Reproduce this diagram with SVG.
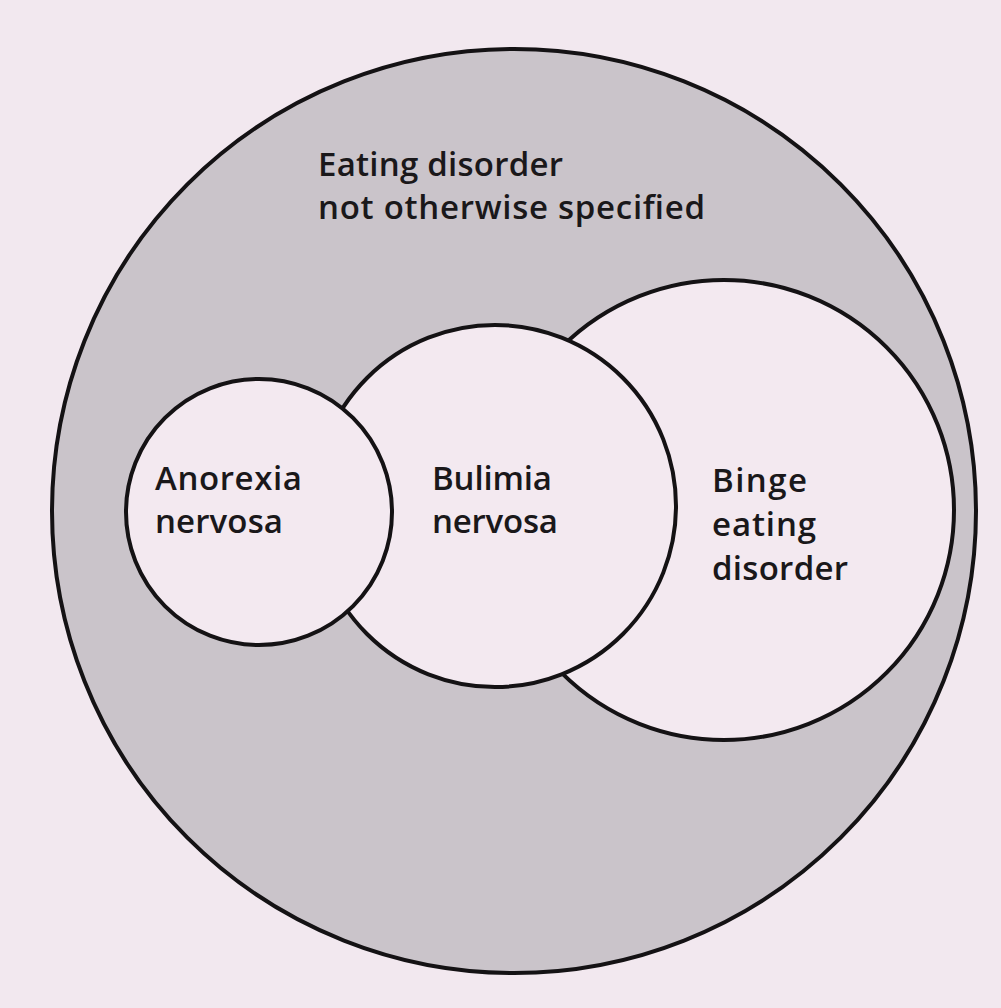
<svg xmlns="http://www.w3.org/2000/svg" width="1001" height="1008" viewBox="0 0 1001 1008">
  <style>
    .ring { stroke: #141214; stroke-width: 4; }
    .inner { fill: #f3e9f0; }
    .lbl { font-family: "Open Sans", "Noto Sans", "Liberation Sans", sans-serif; font-weight: 600; font-size: 33px; fill: #1a181a; }
  </style>
  <rect x="0" y="0" width="1001" height="1008" fill="#f2e8ef"/>
  <g id="ednos">
    <circle class="ring" cx="514" cy="511" r="462" fill="#cac4ca"/>
    <text class="lbl" x="318" y="176" textLength="245" lengthAdjust="spacing">Eating disorder</text>
    <text class="lbl" x="318" y="219" textLength="387" lengthAdjust="spacing">not otherwise specified</text>
  </g>
  <g id="binge">
    <circle class="ring inner" cx="724" cy="510" r="230"/>
    <text class="lbl" x="712" y="492" textLength="95" lengthAdjust="spacing">Binge</text>
    <text class="lbl" x="712" y="536" textLength="104" lengthAdjust="spacing">eating</text>
    <text class="lbl" x="712" y="580" textLength="136" lengthAdjust="spacing">disorder</text>
  </g>
  <g id="bulimia">
    <circle class="ring inner" cx="495" cy="506" r="181"/>
    <text class="lbl" x="432" y="490" textLength="120" lengthAdjust="spacing">Bulimia</text>
    <text class="lbl" x="432" y="533" textLength="126" lengthAdjust="spacing">nervosa</text>
  </g>
  <g id="anorexia">
    <circle class="ring inner" cx="259" cy="512" r="133"/>
    <text class="lbl" x="155" y="490" textLength="147" lengthAdjust="spacing">Anorexia</text>
    <text class="lbl" x="155" y="533" textLength="128" lengthAdjust="spacing">nervosa</text>
  </g>
  <g id="connectors"/>
</svg>
